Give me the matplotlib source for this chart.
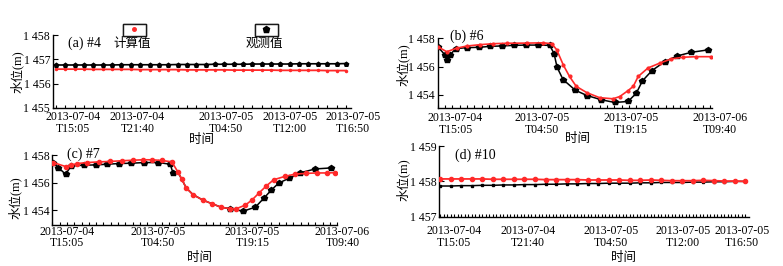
import matplotlib
matplotlib.use('Agg')
import matplotlib.pyplot as plt
from matplotlib.ticker import MultipleLocator, NullLocator
from matplotlib.lines import Line2D

plt.rcParams['font.family'] = ['Liberation Serif', 'Noto Sans CJK SC']
plt.rcParams['font.size'] = 9

# ---- (a) #4 : 按采样序号 ----
a_obs = [1456.77, 1456.77, 1456.77, 1456.77, 1456.77, 1456.77, 1456.77, 1456.78,
         1456.78, 1456.78, 1456.78, 1456.78, 1456.78, 1456.79, 1456.79, 1456.79,
         1456.79, 1456.80, 1456.80, 1456.80, 1456.80, 1456.81, 1456.81, 1456.81,
         1456.81, 1456.81, 1456.82, 1456.82, 1456.82, 1456.82, 1456.82, 1456.83]
a_calc = [1456.60, 1456.60, 1456.60, 1456.60, 1456.59, 1456.59, 1456.59, 1456.59,
          1456.59, 1456.58, 1456.58, 1456.58, 1456.58, 1456.58, 1456.57, 1456.57,
          1456.57, 1456.57, 1456.57, 1456.56, 1456.56, 1456.56, 1456.56, 1456.56,
          1456.55, 1456.55, 1456.55, 1456.55, 1456.55, 1456.54, 1456.54, 1456.54]
a_tickpos = [1.8, 8.7, 18.2, 25.0, 31.8]
a_ticklab = ['2013-07-04\nT15:05', '2013-07-04\nT21:40', '2013-07-05\nT04:50',
             '2013-07-05\nT12:00', '2013-07-05\nT16:50']

# ---- (b) #6 : 小时 ----
b_obs_t = [0, 1.14, 1.58, 2.07, 2.94, 4.79, 6.69, 8.6, 10.5, 12.45, 14.47, 16.37,
           18.27, 18.98, 19.47, 20.45, 22.46, 24.36, 26.7, 28.87, 31.05, 32.4,
           33.4, 34.96, 37.03, 39.04, 41.38, 44.1]
b_obs = [1457.41, 1456.85, 1456.45, 1456.85, 1457.27, 1457.34, 1457.36, 1457.43,
         1457.46, 1457.5, 1457.52, 1457.52, 1457.5, 1456.92, 1455.95, 1455.08,
         1454.32, 1453.95, 1453.65, 1453.46, 1453.53, 1454.12, 1454.99, 1455.72,
         1456.35, 1456.75, 1457.01, 1457.18]
b_calc_t = [0, 1.47, 3.1, 4.7, 6.9, 9.1, 11.3, 14.5, 17.2, 18.6, 19.4, 20.5,
            21.5, 22.6, 24.3, 26.4, 28.6, 29.7, 31.05, 31.9, 32.7, 34.3, 36.2,
            38.1, 40.0, 42.2, 44.6]
b_calc = [1457.41, 1457.05, 1457.3, 1457.45, 1457.55, 1457.62, 1457.65, 1457.66,
          1457.68, 1457.62, 1457.2, 1456.1, 1455.3, 1454.6, 1454.16, 1453.8,
          1453.72, 1453.88, 1454.3, 1454.6, 1455.3, 1455.9, 1456.24, 1456.54,
          1456.66, 1456.7, 1456.7]
b_tickpos = [2.9, 17.0, 31.5, 46.0]
b_ticklab = ['2013-07-04\nT15:05', '2013-07-05\nT04:50', '2013-07-05\nT19:15',
             '2013-07-06\nT09:40']

# ---- (c) #7 : 小时 ----
c_obs_t = [0.16, 0.93, 2.07, 2.89, 4.96, 6.77, 8.53, 10.34, 12.14, 14.21, 16.43,
           18.24, 18.66, 19.43, 20.05, 20.72, 21.76, 23.26, 24.7, 26.1, 27.55,
           29.51, 31.42, 32.82, 33.85, 35.04, 36.69, 38.4, 40.72, 43.05]
c_obs = [1457.46, 1457.10, 1456.61, 1457.22, 1457.27, 1457.29, 1457.34, 1457.39,
         1457.41, 1457.46, 1457.46, 1457.34, 1456.73, 1456.78, 1456.24, 1455.63,
         1455.15, 1454.76, 1454.49, 1454.24, 1454.12, 1453.95, 1454.24, 1454.93,
         1455.46, 1455.98, 1456.34, 1456.73, 1457.0, 1457.07]
c_obs_mark = [0, 1, 2, 3, 4, 5, 6, 7, 8, 9, 10, 11, 12, 20, 21, 22, 23, 24, 25,
              26, 27, 28, 29]
c_calc_t = [0.16, 2.07, 2.89, 3.88, 5.43, 7.24, 8.94, 10.75, 12.56, 14.0, 15.4,
            16.95, 18.5, 19.43, 20.05, 20.72, 21.76, 23.26, 24.7, 26.1, 27.55,
            28.42, 29.87, 30.9, 32.04, 33.13, 34.26, 35.97, 37.62, 39.33, 40.98,
            42.53, 43.67]
c_calc = [1457.46, 1457.17, 1457.27, 1457.39, 1457.46, 1457.51, 1457.54, 1457.59,
          1457.63, 1457.66, 1457.66, 1457.61, 1457.51, 1456.78, 1456.24, 1455.63,
          1455.15, 1454.76, 1454.49, 1454.24, 1454.12, 1454.12, 1454.39, 1454.76,
          1455.29, 1455.78, 1456.22, 1456.46, 1456.63, 1456.68, 1456.71, 1456.71,
          1456.73]
c_tickpos = [2.3, 16.4, 30.97, 44.9]
c_ticklab = b_ticklab

# ---- (d) #10 : 按采样序号 ----
d_calc = [1458.07, 1458.07, 1458.07, 1458.07, 1458.07, 1458.06, 1458.06, 1458.06,
          1458.06, 1458.06, 1458.05, 1458.05, 1458.05, 1458.05, 1458.04, 1458.04,
          1458.04, 1458.04, 1458.03, 1458.03, 1458.04, 1458.03, 1458.02, 1458.02,
          1458.02, 1458.03, 1458.02, 1458.01, 1458.01, 1458.00]
d_obs = [1457.87, 1457.87, 1457.88, 1457.88, 1457.89, 1457.89, 1457.90, 1457.90,
         1457.91, 1457.91, 1457.92, 1457.92, 1457.93, 1457.93, 1457.94, 1457.94,
         1457.95, 1457.95, 1457.95, 1457.96, 1457.96, 1457.97, 1457.97, 1457.97,
         1457.98, 1457.98, 1457.99, 1457.99, 1458.00, 1458.00]
d_tickpos = [1.33, 8.3, 16.2, 23.1, 28.7]
d_ticklab = a_ticklab

RED = '#ff2a2a'

fig = plt.figure(figsize=(7.83, 2.66), dpi=100)


def style(ax, xlim, ylim, yticks, minor_step, tickpos, ticklab, lab_off):
    ax.set_xlim(*xlim)
    ax.set_ylim(*ylim)
    for s in ['top', 'right']:
        ax.spines[s].set_visible(False)
    ax.spines['left'].set_linewidth(1.0)
    ax.spines['bottom'].set_linewidth(1.0)
    ax.xaxis.set_major_locator(NullLocator())
    ax.xaxis.set_minor_locator(MultipleLocator(minor_step))
    ax.tick_params(axis='x', which='minor', direction='in', length=2.5, width=0.8)
    ax.set_yticks(yticks)
    ax.set_yticklabels(['1 %d' % (v - 1000) for v in yticks])
    ax.tick_params(axis='y', direction='in', length=3.5, width=0.8, pad=2, labelsize=8.5)
    for p, lab in zip(tickpos, ticklab):
        ax.annotate(lab, xy=(p, 0), xycoords=ax.get_xaxis_transform(),
                    xytext=(0, lab_off), textcoords='offset points', ha='center', va='top',
                    linespacing=0.95, annotation_clip=False, fontsize=8.5)


# (a)
ax = fig.add_axes([0.0677, 0.594, 0.380, 0.274])
xa = list(range(len(a_obs)))
ax.plot(xa, a_calc, color=RED, lw=1.3, marker='o', ms=1.5, zorder=2)
ax.plot(xa, a_obs, color='black', lw=1.2, marker='p', ms=3.2, zorder=3)
style(ax, (-0.32, 31.5), (1455, 1458), [1455, 1456, 1457, 1458], 1, a_tickpos, a_ticklab, -2.5)
ax.text(0.05, 0.89, '(a) #4', transform=ax.transAxes, fontsize=10, va='center')
h_calc = Line2D([], [], color=RED, marker='o', ls='none', ms=2.5)
h_obs = Line2D([], [], color='black', marker='p', ls='none', ms=5)
for h, xc, lab in [(h_calc, 132, '计算值'), (h_obs, 264, '观测值')]:
    leg = fig.legend(handles=[h], labels=[''], loc='center', bbox_to_anchor=(xc / 783 + 0.003, 1 - 30 / 266),
                     frameon=True, fancybox=False, edgecolor='black', handlelength=2.6,
                     handletextpad=0, borderpad=0.4, borderaxespad=0, fontsize=5)
    leg.get_frame().set_linewidth(1.0)
    fig.add_artist(leg)
    fig.text(xc / 783, 1 - 44 / 266, lab, ha='center', va='center', fontsize=9)

# (b)
ax = fig.add_axes([0.559, 0.593, 0.350, 0.263])
ax.plot(b_calc_t, b_calc, color=RED, lw=1.2, marker='o', ms=2.0, zorder=3)
ax.plot(b_obs_t, b_obs, color='black', lw=1.1, marker='p', ms=4, zorder=2)
style(ax, (0, 44.7), (1453.05, 1458), [1454, 1456, 1458], 1.2, b_tickpos, b_ticklab, -3)
ax.text(0.044, 1.03, '(b) #6', transform=ax.transAxes, fontsize=10, va='center')

# (c)
ax = fig.add_axes([0.0668, 0.154, 0.364, 0.263])
ax.plot(c_obs_t, c_obs, color='black', lw=1.1, marker='p', ms=3.8,
        markevery=c_obs_mark, zorder=2)
ax.plot(c_calc_t, c_calc, color=RED, lw=1.2, marker='o', ms=3.0, zorder=3)
style(ax, (0, 44.1), (1452.95, 1458), [1454, 1456, 1458], 1.13, c_tickpos, c_ticklab, -0.5)
ax.text(0.053, 1.01, '(c) #7', transform=ax.transAxes, fontsize=10, va='center')

# (d)
ax = fig.add_axes([0.561, 0.185, 0.395, 0.266])
xd = list(range(len(d_obs)))
ax.plot(xd, d_calc, color=RED, lw=1.3, marker='o', ms=3.0, zorder=3)
ax.plot(xd, d_obs, color='black', lw=1.1, marker='s', ms=2.0, zorder=2)
style(ax, (-0.1, 29.3), (1457, 1459), [1457, 1458, 1459], 1 / 3, d_tickpos, d_ticklab, -6)
ax.text(0.05, 0.87, '(d) #10', transform=ax.transAxes, fontsize=10, va='center')

# 坐标轴标题
for x, y in [(17, 72), (403, 65), (15, 198), (403, 180)]:
    fig.text(x / 783, 1 - y / 266, '水位(m)', rotation=90, ha='center', va='center', fontsize=9)
for x, y in [(201, 140), (578, 139), (200, 258), (623, 258)]:
    fig.text(x / 783, 1 - y / 266, '时间', ha='center', va='center', fontsize=9)

fig.savefig('out.png', dpi=100)
